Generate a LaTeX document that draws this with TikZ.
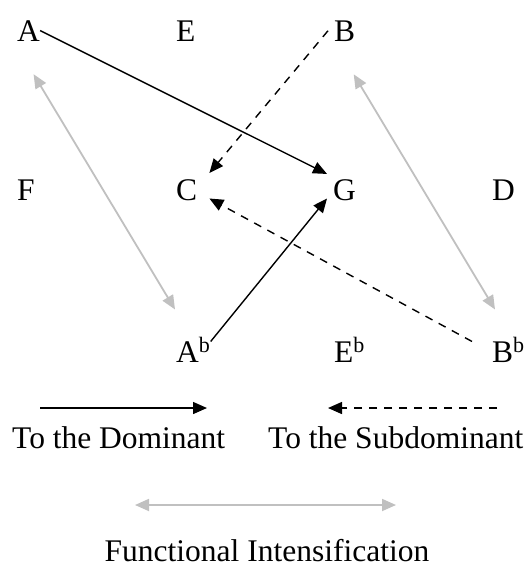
\documentclass[tikz,border=0pt]{standalone}
\usepackage{fontspec}
\setmainfont{Liberation Serif}
\usetikzlibrary{arrows.meta,calc}
\definecolor{lightgrey}{RGB}{192,192,192}

\begin{document}
\begin{tikzpicture}[x=1pt,y=-1pt,
    note/.style={anchor=base west, inner sep=0pt, font=\fontsize{31.5}{36}\selectfont},
    todom/.style={line width=1.4pt, -{Triangle[length=14pt,width=12pt]}},
    tosub/.style={line width=1.4pt, dash pattern=on 8pt off 7pt, -{Triangle[length=14pt,width=12pt]}},
    intens/.style={line width=1.8pt, draw=lightgrey, {Triangle[length=14pt,width=12pt]}-{Triangle[length=14pt,width=12pt]}}]
    \useasboundingbox (0,0) rectangle (532,570);

    % top row
    \node[note] (A) at (17,41) {A};
    \node[note] (E) at (176,41) {E};
    \node[note] (B) at (334,41) {B};
    % middle row
    \node[note] (F) at (17,200) {F};
    \node[note] (C) at (176,200) {C};
    \node[note] (G) at (333,200) {G};
    \node[note] (D) at (492,200) {D};
    % bottom row
    \node[note] (Ab) at (176,362) {A\textsuperscript{b}};
    \node[note] (Eb) at (334,362) {E\textsuperscript{b}};
    \node[note] (Bb) at (492,362) {B\textsuperscript{b}};

    \draw[todom] (A.east) -- ([shift={(-6,-5)}]G.north west);
    \draw[tosub] ([shift={(-6,0)}]B.west) -- ([shift={(12,-6)}]C.north east);
    \draw[todom] ([shift={(0,4)}]Ab.north east) -- ([shift={(-6,-2)}]G.south west);
    \draw[tosub] ([shift={(-20,4)}]Bb.north west) -- ([shift={(12,-2)}]C.south east);
    \draw[intens] ([shift={(5,33)}]A.south) -- ([shift={(-1,-28)}]Ab.north west);
    \draw[intens] ([shift={(9,33)}]B.south) -- ([shift={(3,-28)}]Bb.north west);

    % legend
    \node[note] (dom) at (12,448) {To the Dominant};
    \node[note] (sub) at (268,448) {To the Subdominant};
    \coordinate (domL) at (40,408);
    \coordinate (domR) at (207,408);
    \draw[todom] (domL) -- (domR);
    \coordinate (subR) at (497,408);
    \coordinate (subL) at (328,408);
    \draw[tosub] (subR) -- (subL);
    \coordinate (intL) at (135,505);
    \coordinate (intR) at (396,505);
    \draw[intens] (intL) -- (intR);
    \node[note, anchor=base] (fi) at (267,561) {Functional Intensification};
\end{tikzpicture}
\end{document}
